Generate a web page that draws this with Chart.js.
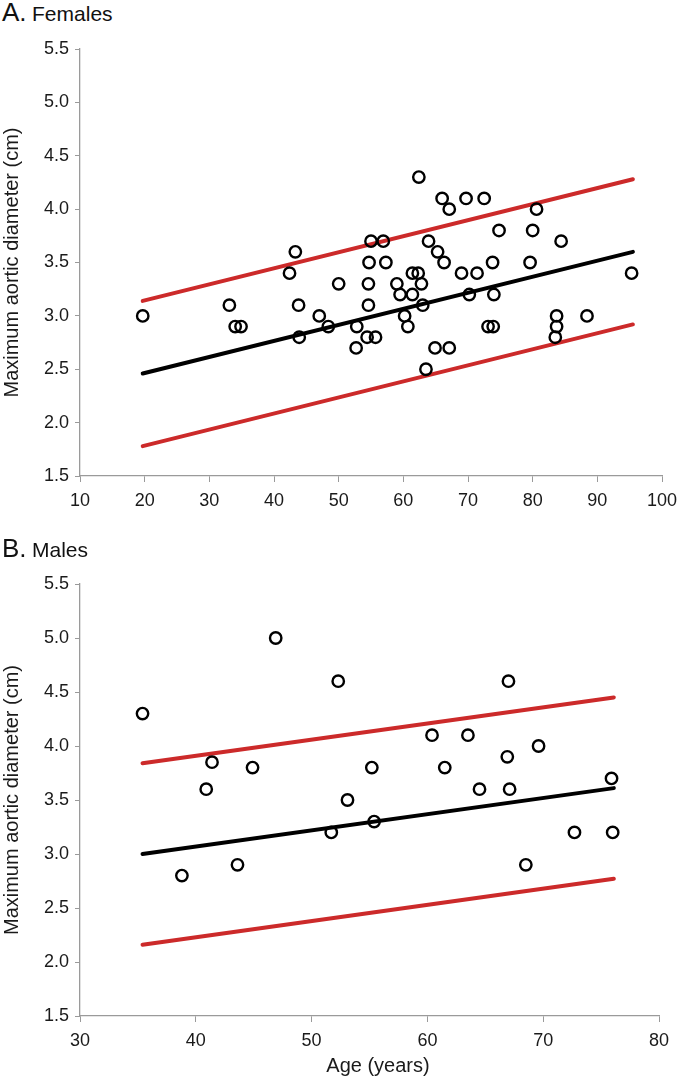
<!DOCTYPE html>
<html>
<head>
<meta charset="utf-8">
<script src="https://cdn.jsdelivr.net/npm/chart.js@4"></script>
<style>
  body { margin: 0; background: #fff; width: 680px; height: 1079px; position: relative; overflow: hidden; font-family: "Liberation Sans", Arial, sans-serif; }
  .lab { position: absolute; left: 2px; color: #111; line-height: 25px; white-space: nowrap; }
  .lab b { font-weight: normal; font-size: 26px; }
  .lab span { font-size: 21px; margin-left: 1px; }
  .xtitle { position: absolute; left: 278px; width: 200px; text-align: center; font-size: 20px; line-height: 24px; color: #1a1a1a; }
  canvas { position: absolute; left: 0; }
</style>
</head>
<body>

<div class="lab" style="top:0px"><b>A.</b> <span>Females</span></div>
<canvas id="chartA" width="680" height="540" style="top:0px"></canvas>

<div class="lab" style="top:536px"><b>B.</b> <span>Males</span></div>
<canvas id="chartB" width="680" height="539" style="top:540px"></canvas>
<div class="xtitle" style="top:1053px">Age (years)</div>

<script>
// A. Females - age vs max aortic diameter
const femaleAge = [19.7, 33.1, 34.0, 34.9, 42.4, 43.3, 43.8, 43.9, 47.0, 48.4,
  50.0, 52.8, 52.7, 54.7, 54.6, 54.6, 54.4, 55.7, 55.0, 56.9,
  57.3, 59.0, 59.5, 60.2, 60.7, 61.4, 61.4, 62.3, 62.8, 63.0,
  63.5, 62.4, 63.9, 64.9, 65.3, 66.0, 66.3, 67.1, 67.1, 69.0,
  69.7, 70.2, 71.4, 72.5, 73.1, 73.8, 73.9, 74.0, 74.8, 79.6,
  80.0, 80.6, 83.7, 83.7, 83.5, 84.4, 88.4, 95.3];
const femaleDiam = [3.0, 3.1, 2.9, 2.9, 3.4, 3.6, 3.1, 2.8, 3.0, 2.9,
  3.3, 2.9, 2.7, 3.5, 3.3, 3.1, 2.8, 2.8, 3.7, 3.7,
  3.5, 3.3, 3.2, 3.0, 2.9, 3.4, 3.2, 3.4, 3.3, 3.1,
  2.5, 4.3, 3.7, 2.7, 3.6, 4.1, 3.5, 4.0, 2.7, 3.4,
  4.1, 3.2, 3.4, 4.1, 2.9, 3.5, 2.9, 3.2, 3.8, 3.5,
  3.8, 4.0, 3.0, 2.9, 2.8, 3.7, 3.0, 3.4];
// regression line + prediction band, ends of the fitted range
const femaleFitAge = [19.7, 95.5];
const femaleFit = [2.46, 3.60];
const femaleUpper = [3.14, 4.28];
const femaleLower = [1.78, 2.92];

// B. Males
const maleAge = [35.4, 38.8, 40.9, 41.4, 43.6, 44.9, 46.9, 51.7, 52.3, 53.1,
  55.2, 55.4, 60.4, 61.5, 63.5, 64.5, 66.9, 67.0, 67.1, 68.5,
  69.6, 72.7, 75.9, 76.0];
const maleDiam = [4.3, 2.8, 3.6, 3.85, 2.9, 3.8, 5.0, 3.2, 4.6, 3.5,
  3.8, 3.3, 4.1, 3.8, 4.1, 3.6, 3.9, 4.6, 3.6, 2.9,
  4.0, 3.2, 3.7, 3.2];
const maleFitAge = [35.4, 76.1];
const maleFit = [3.00, 3.61];
const maleUpper = [3.84, 4.45];
const maleLower = [2.16, 2.77];

const yTicks = [1.5, 2.0, 2.5, 3.0, 3.5, 4.0, 4.5, 5.0, 5.5];
const femaleXTicks = [10, 20, 30, 40, 50, 60, 70, 80, 90, 100];
const maleXTicks = [30, 40, 50, 60, 70, 80];

const FONT = '"Liberation Sans", Arial, sans-serif';
const RED = '#cc2a2a';
const AXIS = '#9a9a9a';

function pts(xs, ys) {
  return xs.map((x, i) => ({ x: x, y: ys[i] }));
}

function lineSet(xs, ys, color) {
  return {
    type: 'line',
    data: pts(xs, ys),
    borderColor: color,
    borderWidth: 4,
    borderCapStyle: 'round',
    pointRadius: 0,
    fill: false,
    order: 2
  };
}

function makeChart(id, ages, diams, fitAge, fit, upper, lower, xTicks, cfg) {
  const ctx = document.getElementById(id).getContext('2d');
  return new Chart(ctx, {
    type: 'scatter',
    data: {
      datasets: [
        {
          data: pts(ages, diams),
          pointStyle: 'circle',
          pointRadius: 5.7,
          pointBorderWidth: 2.4,
          pointBackgroundColor: 'rgba(0,0,0,0)',
          pointBorderColor: '#000',
          order: 1
        },
        lineSet(fitAge, fit, '#000'),
        lineSet(fitAge, upper, RED),
        lineSet(fitAge, lower, RED)
      ]
    },
    options: {
      responsive: false,
      animation: false,
      events: [],
      layout: { padding: cfg.padding },
      plugins: { legend: { display: false }, tooltip: { enabled: false }, title: { display: false } },
      scales: {
        x: {
          type: 'linear',
          min: xTicks[0],
          max: xTicks[xTicks.length - 1],
          afterBuildTicks: s => { s.ticks = xTicks.map(v => ({ value: v })); },
          // fixed box so the plot area matches the original
          afterFit: s => { s.height = cfg.xHeight; s.paddingLeft = 0; s.paddingRight = 0; },
          ticks: { font: { family: FONT, size: 18 }, color: '#1a1a1a', padding: 8, maxRotation: 0 },
          grid: { drawOnChartArea: false, tickLength: 6, color: AXIS, lineWidth: 1 },
          border: { color: AXIS, width: 1.3 }
        },
        y: {
          type: 'linear',
          min: 1.5,
          max: 5.5,
          afterBuildTicks: s => { s.ticks = yTicks.map(v => ({ value: v })); },
          afterFit: s => { s.width = 80; s.paddingTop = 0; s.paddingBottom = 0; },
          ticks: { font: { family: FONT, size: 18 }, color: '#1a1a1a', padding: 6, callback: v => v.toFixed(1) },
          grid: { drawOnChartArea: false, tickLength: 5, color: AXIS, lineWidth: 1 },
          border: { color: AXIS, width: 1.3 },
          title: {
            display: true,
            text: 'Maximum aortic diameter (cm)',
            font: { family: FONT, size: 20 },
            color: '#1a1a1a',
            padding: { top: 0, bottom: 0 }
          }
        }
      }
    }
  });
}

makeChart('chartA', femaleAge, femaleDiam, femaleFitAge, femaleFit, femaleUpper, femaleLower, femaleXTicks,
  { padding: { top: 49, right: 18, left: 0, bottom: 0 }, xHeight: 64 });

makeChart('chartB', maleAge, maleDiam, maleFitAge, maleFit, maleUpper, maleLower, maleXTicks,
  { padding: { top: 44, right: 21, left: 0, bottom: 0 }, xHeight: 63 });
</script>
</body>
</html>
